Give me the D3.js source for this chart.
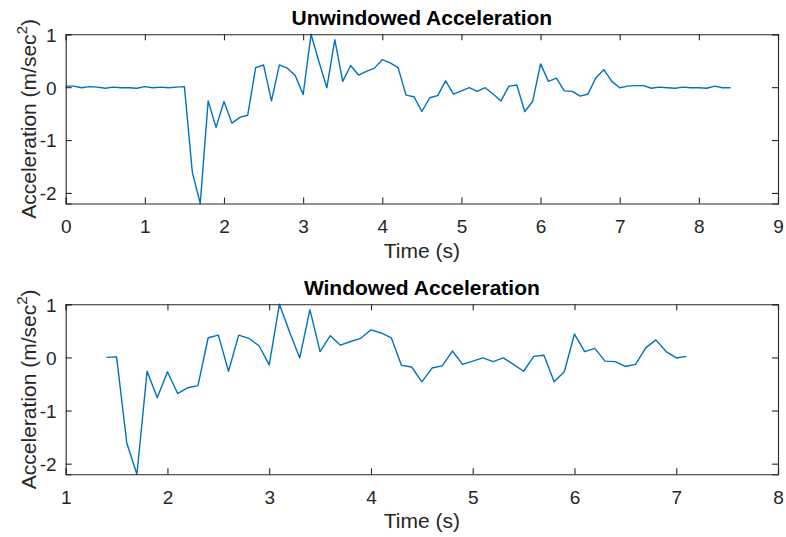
<!DOCTYPE html>
<html>
<head>
<meta charset="utf-8">
<script src="https://cdn.jsdelivr.net/npm/d3@7"></script>
<style>
  html, body { margin: 0; padding: 0; background: #fff; }
  svg { display: block; font-family: "Liberation Sans", Arial, Helvetica, sans-serif; }
</style>
</head>
<body>
<svg id="chart" width="786" height="537"></svg>
<script>
// Sample times (s)
const time = [
  0.0, 0.1, 0.2, 0.3, 0.4, 0.5, 0.6, 0.7, 0.8, 0.9,
  1.0, 1.1, 1.2, 1.3, 1.4, 1.5, 1.6, 1.7, 1.8, 1.9,
  2.0, 2.1, 2.2, 2.3, 2.4, 2.5, 2.6, 2.7, 2.8, 2.9,
  3.0, 3.1, 3.2, 3.3, 3.4, 3.5, 3.6, 3.7, 3.8, 3.9,
  4.0, 4.1, 4.2, 4.3, 4.4, 4.5, 4.6, 4.7, 4.8, 4.9,
  5.0, 5.1, 5.2, 5.3, 5.4, 5.5, 5.6, 5.7, 5.8, 5.9,
  6.0, 6.1, 6.2, 6.3, 6.4, 6.5, 6.6, 6.7, 6.8, 6.9,
  7.0, 7.1, 7.2, 7.3, 7.4, 7.5, 7.6, 7.7, 7.8, 7.9,
  8.0, 8.1, 8.2, 8.3, 8.4
];

// Measured acceleration (m/sec^2)
const acceleration = [
  0.02, 0.02, -0.01, 0.01, 0.00, -0.02, 0.00, -0.01, -0.01, -0.02,
  0.01, -0.01, 0.00, -0.01, 0.00, 0.01, -1.61, -2.20, -0.26, -0.76,
  -0.27, -0.68, -0.57, -0.53, 0.37, 0.42, -0.26, 0.42, 0.36, 0.22,
  -0.14, 1.00, 0.48, -0.01, 0.90, 0.11, 0.41, 0.23, 0.30, 0.36,
  0.52, 0.46, 0.37, -0.15, -0.18, -0.46, -0.20, -0.16, 0.12, -0.13,
  -0.07, -0.01, -0.08, -0.01, -0.13, -0.26, 0.02, 0.04, -0.46, -0.27,
  0.44, 0.11, 0.17, -0.07, -0.08, -0.17, -0.13, 0.18, 0.33, 0.11,
  -0.01, 0.02, 0.03, 0.03, -0.02, 0.00, -0.01, -0.02, 0.00, -0.01,
  -0.01, -0.02, 0.02, -0.01, -0.01
];

// Analysis window (s)
const windowBounds = [1.4, 7.1];

// Axis settings
const xDomainFull = [0, 9];
const xDomainWindow = [1, 8];
const yDomain = [-2.2, 1];
const yTicks = [-2, -1, 0, 1];
const xTicksFull = [0, 1, 2, 3, 4, 5, 6, 7, 8, 9];
const xTicksWindow = [1, 2, 3, 4, 5, 6, 7, 8];

const titles = ["Unwindowed Acceleration", "Windowed Acceleration"];

const fullSeries = time.map((t, i) => ({ t, a: acceleration[i] }));
const windowSeries = fullSeries.filter(d => d.t >= windowBounds[0] - 1e-9 && d.t <= windowBounds[1] + 1e-9);

const svg = d3.select("#chart");
const axisColor = "#262626";
const lineColor = "#0072BD";
const tickFmt = d => String(d);

function panel(top, bottom, xDomain, xTicks, series, title) {
  const left = 65.7, right = 778;
  const x = d3.scaleLinear().domain(xDomain).range([left, right]);
  const y = d3.scaleLinear().domain(yDomain).range([bottom, top]);
  const g = svg.append("g");

  // data line
  g.append("path")
    .datum(series)
    .attr("fill", "none")
    .attr("stroke", lineColor)
    .attr("stroke-width", 1.4)
    .attr("stroke-linejoin", "round")
    .attr("d", d3.line().x(d => x(d.t)).y(d => y(d.a)));

  const tickLen = 6;
  // box axes with inward ticks; labels on bottom and left only
  const xb = g.append("g").attr("transform", `translate(0,${bottom})`)
    .call(d3.axisBottom(x).tickValues(xTicks).tickSize(-tickLen).tickPadding(16).tickFormat(tickFmt));
  const xt = g.append("g").attr("transform", `translate(0,${top})`)
    .call(d3.axisTop(x).tickValues(xTicks).tickSize(-tickLen).tickFormat(""));
  const yl = g.append("g").attr("transform", `translate(${left},0)`)
    .call(d3.axisLeft(y).tickValues(yTicks).tickSize(-tickLen).tickPadding(9).tickFormat(tickFmt));
  const yr = g.append("g").attr("transform", `translate(${right},0)`)
    .call(d3.axisRight(y).tickValues(yTicks).tickSize(-tickLen).tickFormat(""));

  [xb, xt, yl, yr].forEach(ax => {
    ax.select(".domain").attr("stroke", axisColor).attr("stroke-width", 1.1);
    ax.selectAll(".tick line").attr("stroke", axisColor).attr("stroke-width", 1.1);
    ax.selectAll(".tick text")
      .attr("fill", axisColor)
      .style("font-size", "19px")
      .style("font-family", '"Liberation Sans", Arial, sans-serif');
  });
  yl.selectAll(".tick text").attr("dy", "0.36em");

  // title
  g.append("text")
    .attr("x", (left + right) / 2)
    .attr("y", top - 9)
    .attr("text-anchor", "middle")
    .attr("fill", "#000")
    .style("font-size", "21px")
    .style("font-weight", "bold")
    .text(title);

  // x label
  g.append("text")
    .attr("x", (left + right) / 2)
    .attr("y", bottom + 54)
    .attr("text-anchor", "middle")
    .attr("fill", axisColor)
    .style("font-size", "21px")
    .text("Time (s)");

  // y label with superscript
  const yLabel = g.append("text")
    .attr("transform", `translate(36,${(top + bottom) / 2}) rotate(-90)`)
    .attr("text-anchor", "middle")
    .attr("fill", axisColor)
    .style("font-size", "21px");
  yLabel.append("tspan").text("Acceleration (m/sec");
  yLabel.append("tspan").attr("dy", -9).style("font-size", "15px").text("2");
  yLabel.append("tspan").attr("dy", 9).text(")");
}

panel(34.3, 203.5, xDomainFull, xTicksFull, fullSeries, titles[0]);
panel(304.3, 474.3, xDomainWindow, xTicksWindow, windowSeries, titles[1]);
</script>
</body>
</html>
